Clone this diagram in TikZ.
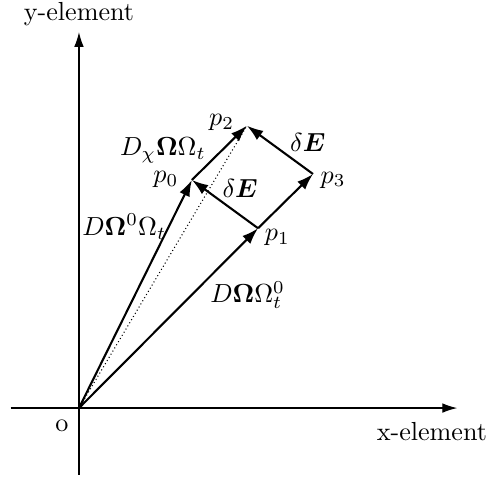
\documentclass[tikz,border=0pt]{standalone}
\usepackage{amsmath}
\usepackage{bm}
\usetikzlibrary{arrows.meta,positioning,calc}

\begin{document}
\begin{tikzpicture}[
    axis/.style={line width=0.45pt, -{Latex[length=2mm,width=1.3mm]}},
    vec/.style={line width=0.8pt, -{Latex[length=2.2mm,width=1.5mm]}},
    guide/.style={line width=0.4pt, densely dotted},
    lbl/.style={inner sep=1pt, font=\normalsize}
  ]
  \useasboundingbox (-1.063,-0.942) rectangle (5.532,5.492);

  % points
  \coordinate (O) at (0,0);
  \coordinate (xl) at (-0.92,0);
  \coordinate (xr) at (5.09,0);
  \coordinate (yb) at (0,-0.90);
  \coordinate (yt) at (0,5.06);
  \coordinate (p0) at (1.52,3.07);
  \coordinate (p1) at (2.41,2.42);
  \coordinate (p3) at (3.15,3.15);
  \coordinate (p2) at (2.26,3.80);

  % axes
  \draw[axis] (xl) -- (xr);
  \draw[axis] (yb) -- (yt);
  \node[lbl] (ylab) at (0,5.30) {y-element};
  \node[lbl] (xlab) at (4.75,-0.32) {x-element};
  \node[lbl] (olab) at (-0.23,-0.24) {o};

  % vectors
  \draw[guide] (O) -- (p2);
  \draw[vec] (O) -- (p0);
  \draw[vec] (O) -- (p1);
  \draw[vec] (p1) -- (p0);
  \draw[vec] (p1) -- (p3);
  \draw[vec] (p0) -- (p2);
  \draw[vec] (p3) -- (p2);

  % labels
  \node[lbl] (l0) at (1.17,3.08) {$p_0$};
  \node[lbl] (l1) at (2.67,2.30) {$p_1$};
  \node[lbl] (l2) at (1.92,3.84) {$p_2$};
  \node[lbl] (l3) at (3.42,3.07) {$p_3$};
  \node[lbl] (dE1) at (2.17,2.96) {$\delta\bm{E}$};
  \node[lbl] (dE2) at (3.08,3.58) {$\delta\bm{E}$};
  \node[lbl] (v0) at (0.61,2.44) {$D\bm{\Omega}^0\Omega_t$};
  \node[lbl] (v1) at (2.27,1.52) {$D\bm{\Omega}\Omega_t^0$};
  \node[lbl] (v2) at (1.13,3.47) {$D_\chi\bm{\Omega}\Omega_t$};
\end{tikzpicture}
\end{document}
